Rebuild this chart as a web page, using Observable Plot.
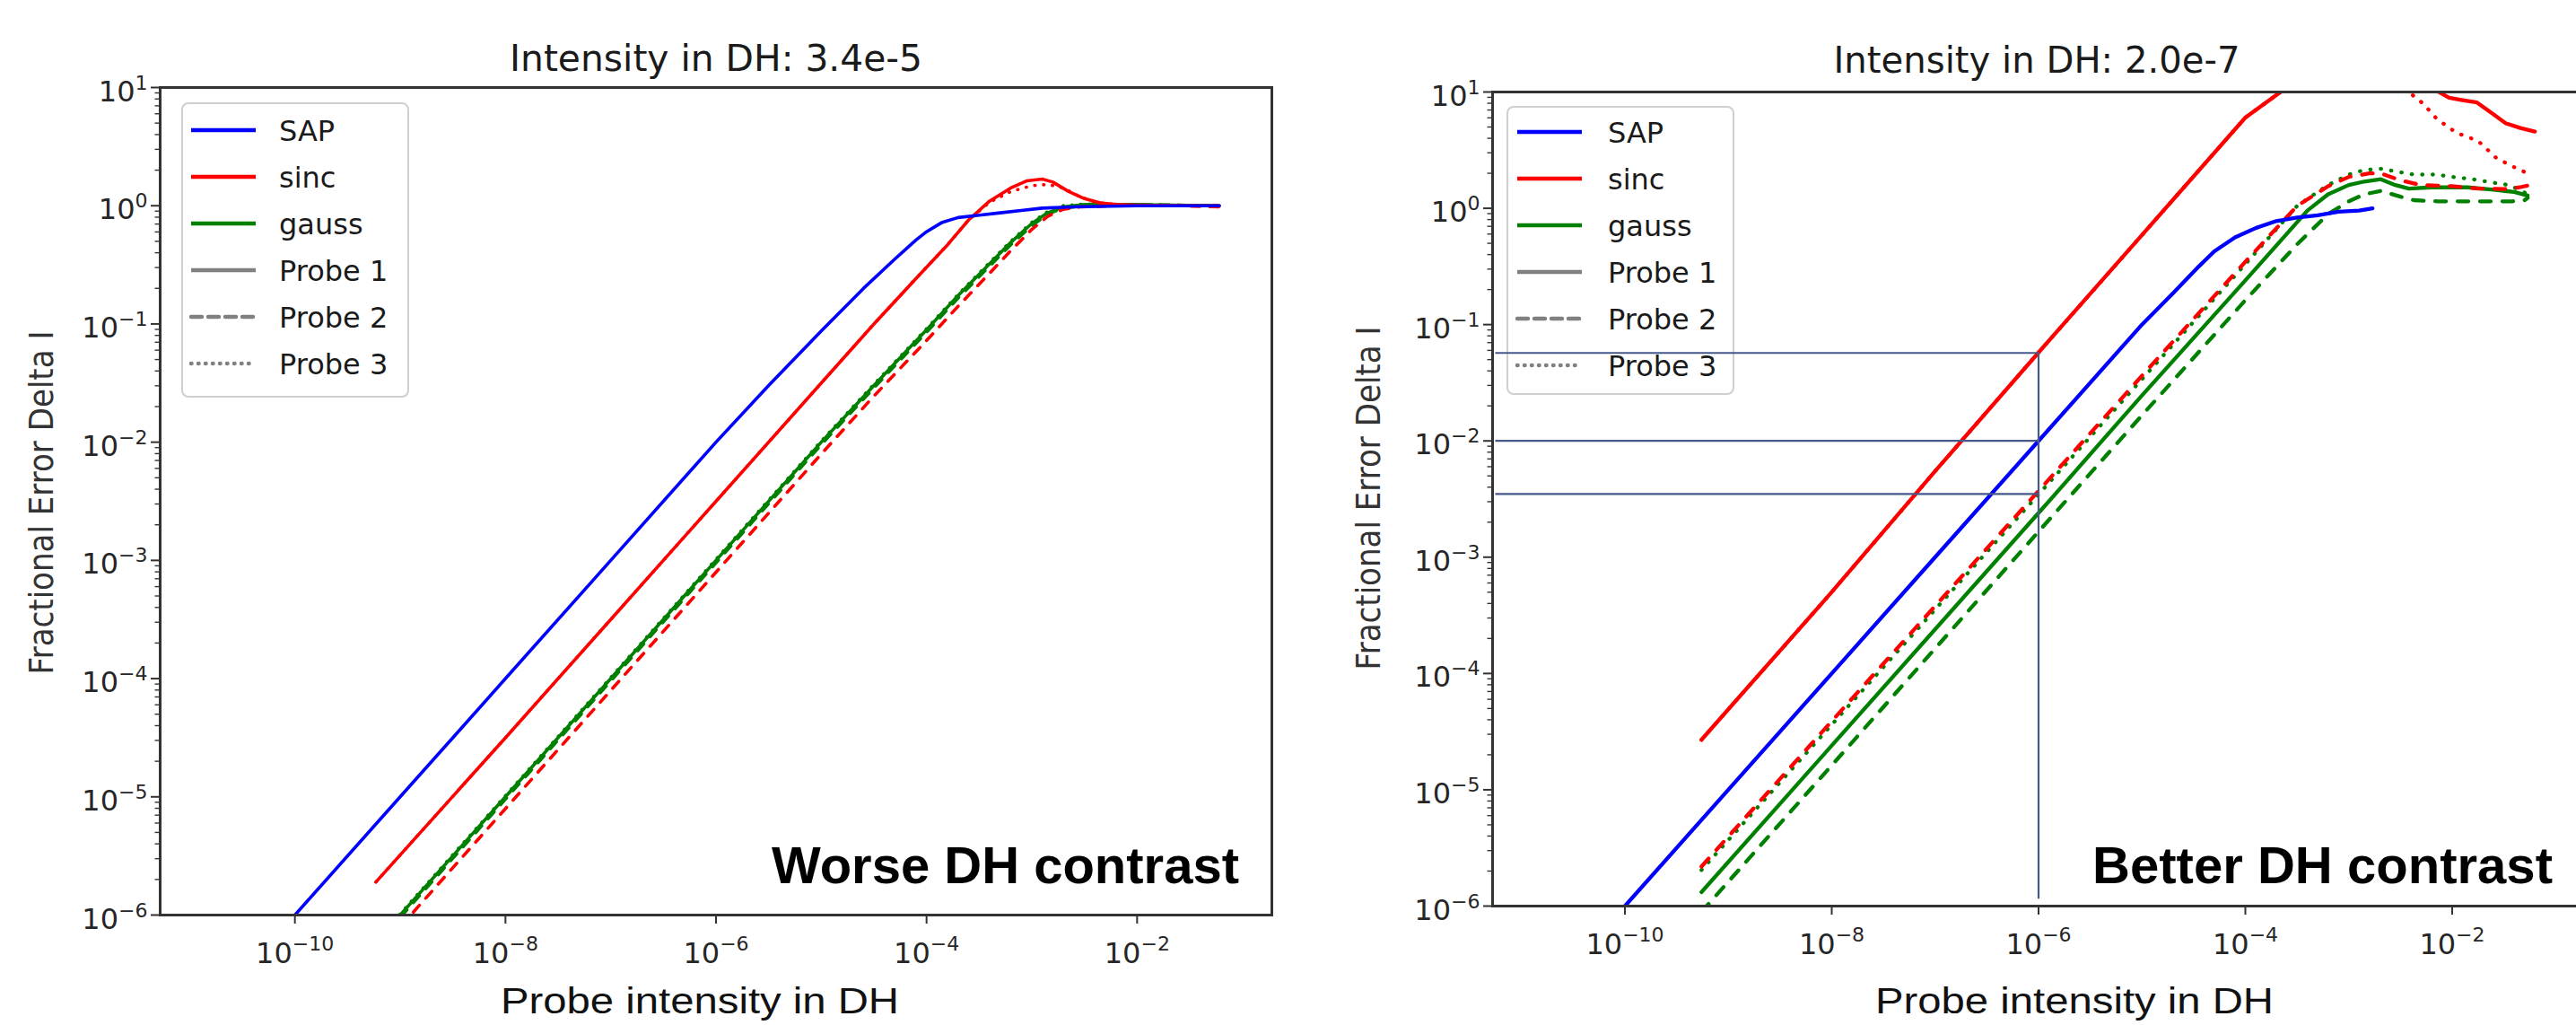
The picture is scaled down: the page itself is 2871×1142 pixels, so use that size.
<!DOCTYPE html>
<html><head><meta charset="utf-8">
<script src="https://cdn.jsdelivr.net/npm/d3@7"></script>
<script src="https://cdn.jsdelivr.net/npm/@observablehq/plot@0.6"></script>
<style>
html,body{margin:0;padding:0;background:#fff;width:2871px;height:1142px;overflow:hidden;}
#root{position:relative;width:2871px;height:1142px;overflow:hidden;}
</style></head><body>
<div id="root"></div>
<script>
// ---------- DATA (pairs are [log10 x, log10 y]) ----------
const titles = ["Intensity in DH: 3.4e-5", "Intensity in DH: 2.0e-7"];
const notes = ["Worse DH contrast", "Better DH contrast"];
const xLabel = "Probe intensity in DH";
const yLabel = "Fractional Error Delta I";
const methods = ["SAP", "sinc", "gauss"];
const methodColors = ["#0000ff", "#ff0000", "#008000"];
const probes = ["Probe 1", "Probe 2", "Probe 3"];
const xMajorExp = [-10, -8, -6, -4, -2];
const xTickExpLabels = ["−10", "−8", "−6", "−4", "−2"];
const yMajorExp = [-6, -5, -4, -3, -2, -1, 0, 1];
const yTickExpLabels = ["−6", "−5", "−4", "−3", "−2", "−1", "0", "1"];
const xDomainExp = [-11.28, -0.72];
const yDomainExp = [-6, 1];

// left panel (worse contrast)
const L_SAP_P1 = [[-10,-6],[-9,-5],[-8,-4],[-7,-3],[-6,-2],[-5.5,-1.52],[-5,-1.06],[-4.6,-0.7],[-4.3,-0.45],[-4.1,-0.29],[-4.0,-0.22],[-3.85,-0.14],[-3.7,-0.1],[-3.5,-0.08],[-3.3,-0.06],[-3.1,-0.04],[-2.9,-0.02],[-2.6,-0.01],[-2.0,0],[-1.22,0]];
const L_SINC_P1 = [[-9.23,-5.72],[-8,-4.5],[-7,-3.5],[-6,-2.5],[-5,-1.5],[-4.5,-1.0],[-4,-0.52],[-3.8,-0.33],[-3.6,-0.12],[-3.4,0.04],[-3.2,0.15],[-3.05,0.21],[-2.9,0.225],[-2.8,0.2],[-2.65,0.12],[-2.5,0.06],[-2.35,0.025],[-2.2,0.01],[-2.0,0.005],[-1.6,0],[-1.22,0]];
const L_SINC_P2 = [[-9.23,-6.33],[-8,-5.1],[-6,-3.1],[-5,-2.1],[-4.5,-1.61],[-4,-1.14],[-3.7,-0.85],[-3.4,-0.57],[-3.2,-0.38],[-3.0,-0.2],[-2.85,-0.09],[-2.7,-0.03],[-2.55,-0.01],[-2.2,0],[-1.6,0],[-1.22,-0.01]];
const L_SINC_P3 = [[-9.23,-5.72],[-8,-4.5],[-7,-3.5],[-6,-2.5],[-5,-1.5],[-4.5,-1.0],[-4,-0.52],[-3.8,-0.33],[-3.6,-0.12],[-3.4,0.03],[-3.2,0.12],[-3.0,0.17],[-2.85,0.18],[-2.7,0.15],[-2.55,0.08],[-2.4,0.03],[-2.2,0.01],[-2.0,0],[-1.22,0]];
const L_GAUSS_P1 = [[-9.23,-6.23],[-8,-5.0],[-6,-3.0],[-5,-2.0],[-4.5,-1.52],[-4,-1.05],[-3.7,-0.76],[-3.4,-0.49],[-3.2,-0.31],[-3.0,-0.15],[-2.85,-0.06],[-2.7,-0.01],[-2.5,0.01],[-2.0,0.01],[-1.22,0]];
const L_GAUSS_P2 = [[-9.23,-6.25],[-8,-5.02],[-6,-3.02],[-5,-2.02],[-4.5,-1.54],[-4,-1.07],[-3.7,-0.78],[-3.4,-0.51],[-3.2,-0.33],[-3.0,-0.17],[-2.85,-0.07],[-2.7,-0.02],[-2.5,0.0],[-2.0,0.01],[-1.22,0]];
const L_GAUSS_P3 = [[-9.23,-6.22],[-8,-4.99],[-6,-2.99],[-5,-1.99],[-4.5,-1.51],[-4,-1.04],[-3.7,-0.75],[-3.4,-0.48],[-3.2,-0.3],[-3.0,-0.14],[-2.85,-0.05],[-2.7,0.0],[-2.5,0.015],[-2.0,0.01],[-1.22,0]];

// right panel (better contrast)
const R_SAP_P1 = [[-10,-6],[-9,-5],[-8,-4],[-7,-3],[-6,-2],[-5,-1.0],[-4.7,-0.73],[-4.45,-0.5],[-4.3,-0.37],[-4.1,-0.25],[-3.9,-0.17],[-3.7,-0.11],[-3.5,-0.08],[-3.3,-0.06],[-3.1,-0.03],[-2.9,-0.02],[-2.77,0.0]];
const R_SINC_P1 = [[-9.26,-4.57],[-8,-3.3],[-7,-2.26],[-6,-1.24],[-5,-0.23],[-4,0.78],[-3.66,1.0],[-3.3,1.3],[-2.9,1.45],[-2.5,1.3],[-2.25,1.1],[-2.13,1.0],[-2.03,0.95],[-1.9,0.93],[-1.76,0.91],[-1.62,0.82],[-1.48,0.73],[-1.34,0.69],[-1.2,0.66]];
const R_SINC_P2 = [[-9.26,-5.66],[-8,-4.41],[-6,-2.43],[-5,-1.44],[-4,-0.46],[-3.5,0.02],[-3.2,0.19],[-3.0,0.27],[-2.8,0.3],[-2.69,0.3],[-2.5,0.24],[-2.3,0.2],[-2.0,0.19],[-1.75,0.17],[-1.5,0.165],[-1.35,0.18],[-1.22,0.205]];
const R_SINC_P3 = [[-9.26,-4.57],[-8,-3.3],[-7,-2.26],[-6,-1.24],[-5,-0.23],[-4,0.78],[-3.66,1.0],[-3.3,1.3],[-2.9,1.4],[-2.6,1.2],[-2.42,1.0],[-2.28,0.9],[-2.15,0.77],[-1.96,0.65],[-1.75,0.58],[-1.57,0.43],[-1.37,0.34],[-1.22,0.28]];
const R_GAUSS_P1 = [[-9.26,-5.88],[-8,-4.62],[-6,-2.62],[-5,-1.61],[-4,-0.62],[-3.6,-0.22],[-3.4,-0.02],[-3.2,0.12],[-3.0,0.2],[-2.85,0.23],[-2.69,0.25],[-2.55,0.2],[-2.42,0.17],[-2.2,0.18],[-1.85,0.18],[-1.6,0.16],[-1.4,0.14],[-1.27,0.11]];
const R_GAUSS_P2 = [[-9.26,-6.05],[-8,-4.79],[-6,-2.78],[-5,-1.78],[-4,-0.79],[-3.5,-0.31],[-3.2,-0.05],[-3.0,0.06],[-2.85,0.12],[-2.69,0.15],[-2.5,0.1],[-2.37,0.07],[-2.14,0.06],[-1.8,0.06],[-1.42,0.06],[-1.3,0.07],[-1.27,0.09]];
const R_GAUSS_P3 = [[-9.26,-5.69],[-8,-4.44],[-6,-2.46],[-5,-1.47],[-4,-0.48],[-3.5,0.02],[-3.2,0.2],[-3.0,0.29],[-2.85,0.33],[-2.69,0.34],[-2.5,0.31],[-2.37,0.29],[-2.15,0.29],[-2.0,0.27],[-1.8,0.25],[-1.6,0.22],[-1.45,0.2],[-1.33,0.15],[-1.27,0.12]];

// reference guide lines drawn on the right panel
const guideX = 1e-6;
const guideYs = [0.057, 0.01, 0.0035];
const guideXStart = 10 ** -11.25;
const guideVBottom = 10 ** -5.94;

// ---------- BUILD ----------
const root = document.getElementById("root");
function place(node, left, top, w, h, z) {
  const div = document.createElement("div");
  div.style.cssText = `position:absolute;left:${left}px;top:${top}px;width:${w}px;height:${h}px;z-index:${z};pointer-events:none;`;
  div.appendChild(node);
  root.appendChild(div);
}
const P = (v) => Math.pow(10, v);
const xDomain = xDomainExp.map(P), yDomain = yDomainExp.map(P);
const yMajor = yMajorExp.map(P);
const yMinor = [];
for (const e of yMajorExp.slice(0, -1)) for (let k = 2; k <= 9; k++) yMinor.push(k * P(e));
const xMajor = xMajorExp.map(P);

const FONT = "DejaVu Sans";
const expWidth = (s, fs) => fs * ((s.match(/−/g) || []).length * 0.838 + s.replace(/−/g, "").length * 0.636);

function panel(geo, series, lw) {
  const marks = [];
  const tickCol = "#333";
  marks.push(Plot.axisY({ticks: yMinor, tickSize: 5.5, strokeWidth: 1.4, stroke: tickCol, tickFormat: () => "", label: null}));
  marks.push(Plot.axisY({ticks: yMajor, tickSize: 10, strokeWidth: 2, stroke: tickCol, tickFormat: () => "", label: null}));
  marks.push(Plot.axisX({ticks: xMajor, tickSize: 10, strokeWidth: 2, stroke: tickCol, tickFormat: () => "", label: null}));
  const FS = 32, FE = 22, w10 = FS * 1.272;
  xMajor.forEach((v, i) => {
    const we = expWidth(xTickExpLabels[i], FE);
    const off = (w10 - we) / 2;
    marks.push(Plot.text([v], {x: d => d, frameAnchor: "bottom", text: () => "10", textAnchor: "end", lineAnchor: "bottom", dx: off, dy: 53, fontSize: FS, fontFamily: FONT, fill: "#262626"}));
    marks.push(Plot.text([v], {x: d => d, frameAnchor: "bottom", text: () => xTickExpLabels[i], textAnchor: "start", lineAnchor: "bottom", dx: off, dy: 39, fontSize: FE, fontFamily: FONT, fill: "#262626"}));
  });
  yMajor.forEach((v, i) => {
    const we = expWidth(yTickExpLabels[i], FE);
    marks.push(Plot.text([v], {y: d => d, frameAnchor: "left", text: () => "10", textAnchor: "end", lineAnchor: "bottom", dx: -14 - we, dy: 15, fontSize: FS, fontFamily: FONT, fill: "#262626"}));
    marks.push(Plot.text([v], {y: d => d, frameAnchor: "left", text: () => yTickExpLabels[i], textAnchor: "end", lineAnchor: "bottom", dx: -14, dy: 2, fontSize: FE, fontFamily: FONT, fill: "#262626"}));
  });
  const dashFor = (p) => p === 1 ? `${lw * 2.8},${lw * 3.0}` : p === 2 ? `0.5,${lw * 2.6}` : null;
  for (const s of series) {
    marks.push(Plot.line(s.pts, {
      x: d => P(d[0]), y: d => P(d[1]),
      stroke: methodColors[s.m], strokeWidth: lw,
      strokeDasharray: dashFor(s.p), strokeLinecap: "round",
      clip: true
    }));
  }
  marks.push(Plot.frame({stroke: "#333", strokeWidth: 3}));
  return Plot.plot({
    width: geo.w, height: 1142,
    marginLeft: geo.ml, marginRight: geo.mr, marginTop: geo.mt, marginBottom: geo.mb,
    x: {type: "log", domain: xDomain},
    y: {type: "log", domain: yDomain},
    style: {background: "transparent", maxWidth: "none", fontFamily: FONT},
    marks
  });
}

const geoL = {left: 0, w: 1435, ml: 178, mr: 18, mt: 97, mb: 123};
const geoR = {left: 1435, w: 1450, ml: 228, mr: 5, mt: 102, mb: 133};

const leftSeries = [
  {m: 2, p: 0, pts: L_GAUSS_P1}, {m: 2, p: 1, pts: L_GAUSS_P2}, {m: 2, p: 2, pts: L_GAUSS_P3},
  {m: 1, p: 2, pts: L_SINC_P3}, {m: 1, p: 1, pts: L_SINC_P2}, {m: 1, p: 0, pts: L_SINC_P1},
  {m: 0, p: 0, pts: L_SAP_P1}
];
const rightSeries = [
  {m: 2, p: 0, pts: R_GAUSS_P1}, {m: 2, p: 1, pts: R_GAUSS_P2}, {m: 2, p: 2, pts: R_GAUSS_P3},
  {m: 1, p: 2, pts: R_SINC_P3}, {m: 1, p: 1, pts: R_SINC_P2}, {m: 1, p: 0, pts: R_SINC_P1},
  {m: 0, p: 0, pts: R_SAP_P1}
];

place(panel(geoL, leftSeries, 3.6), geoL.left, 0, geoL.w, 1142, 1);
place(panel(geoR, rightSeries, 4.3), geoR.left, 0, geoR.w, 1142, 1);

// ---------- TEXT + LEGENDS (overlay svg) ----------
const svg = d3.create("svg").attr("width", 2871).attr("height", 1142)
  .style("background", "transparent").style("display", "block");
const txt = (x, y, s, o = {}) => {
  const t = svg.append("text").attr("x", x).attr("y", y).text(s)
    .attr("font-family", o.family || FONT).attr("font-size", o.size || 32)
    .attr("fill", o.fill || "#1a1a1a").attr("text-anchor", o.anchor || "start");
  if (o.weight) t.attr("font-weight", o.weight);
  if (o.len) t.attr("textLength", o.len).attr("lengthAdjust", "spacingAndGlyphs");
  if (o.rotate) t.attr("transform", `rotate(-90 ${x} ${y})`);
  return t;
};
// titles
txt(798, 79, titles[0], {size: 40, anchor: "middle", len: 460});
txt(2270, 81, titles[1], {size: 40, anchor: "middle", len: 453});
// y labels
txt(59, 560, yLabel, {size: 38, anchor: "middle", rotate: true, len: 383, fill: "#333"});
txt(1538, 555, yLabel, {size: 38, anchor: "middle", rotate: true, len: 383, fill: "#333"});
// x labels
txt(780, 1129, xLabel, {size: 40, family: "Liberation Sans", anchor: "middle", len: 444, fill: "#111"});
txt(2312, 1129, xLabel, {size: 40, family: "Liberation Sans", anchor: "middle", len: 444, fill: "#111"});
// notes
txt(1381, 984, notes[0], {size: 58, family: "Liberation Sans", weight: "bold", anchor: "end", len: 521, fill: "#000"});
txt(2845, 984, notes[1], {size: 58, family: "Liberation Sans", weight: "bold", anchor: "end", len: 513, fill: "#000"});

// legends
function legend(bx, by, bw, bh, hx1, hx2, tx, row0) {
  svg.append("rect").attr("x", bx).attr("y", by).attr("width", bw).attr("height", bh)
    .attr("rx", 7).attr("fill", "white").attr("fill-opacity", 0.8)
    .attr("stroke", "#cfcfcf").attr("stroke-width", 2);
  const entries = methods.map((m, i) => ({label: m, color: methodColors[i], dash: null}))
    .concat(probes.map((p, i) => ({label: p, color: "#808080", dash: i === 1 ? "12,7" : i === 2 ? "0.5,7.5" : null})));
  entries.forEach((e, i) => {
    const y = row0 + i * 52;
    const l = svg.append("line").attr("x1", hx1).attr("x2", hx2).attr("y1", y).attr("y2", y)
      .attr("stroke", e.color).attr("stroke-width", 4.5).attr("stroke-linecap", e.dash ? "round" : "butt");
    if (e.dash) l.attr("stroke-dasharray", e.dash);
    txt(tx, y + 11.5, e.label, {size: 32, fill: "#1a1a1a"});
  });
}
legend(203, 115, 252, 327, 213, 285, 311, 145);
legend(1680, 119, 252, 320, 1691, 1763, 1792, 147);
place(svg.node(), 0, 0, 2871, 1142, 2);

// ---------- guide lines on top of the right legend ----------
const guides = Plot.plot({
  width: geoR.w, height: 1142,
  marginLeft: geoR.ml, marginRight: geoR.mr, marginTop: geoR.mt, marginBottom: geoR.mb,
  x: {type: "log", domain: xDomain, axis: null},
  y: {type: "log", domain: yDomain, axis: null},
  style: {background: "transparent", maxWidth: "none"},
  marks: [
    Plot.ruleY(guideYs, {y: d => d, x1: guideXStart, x2: guideX, stroke: "#46598a", strokeWidth: 2.2}),
    Plot.ruleX([guideX], {x: d => d, y1: guideVBottom, y2: guideYs[0], stroke: "#46598a", strokeWidth: 2.2})
  ]
});
place(guides, geoR.left, 0, geoR.w, 1142, 3);
</script>
</body></html>
